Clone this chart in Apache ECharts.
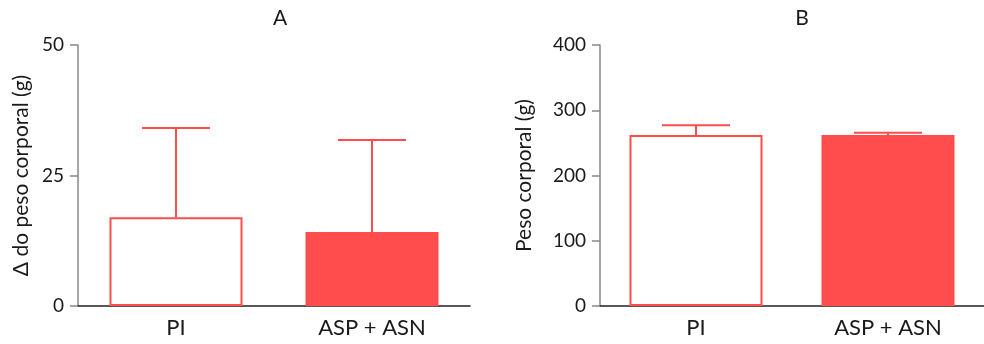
<!DOCTYPE html>
<html>
<head>
<meta charset="utf-8">
<script src="https://cdn.jsdelivr.net/npm/echarts@6/dist/echarts.min.js"></script>
<style>
  html, body { margin: 0; padding: 0; background: #fff; }
  #chart { width: 984px; height: 344px; }
</style>
</head>
<body>
<div id="chart"></div>
<script>
// dados
const categorias = ['PI', 'ASP + ASN']
const deltaMedia = [17, 14.2]
const deltaErroTopo = [34.1, 31.8]
const pesoMedia = [262, 262]
const pesoErroTopo = [277, 265.5]
const ticksA = [0, 25, 50]
const ticksB = [0, 100, 200, 300, 400]

const vermelho = '#ff4d4d'
const fonte = 'Lato, "Open Sans", sans-serif'
const texto = '#1a1a1a'

const chart = echarts.init(document.getElementById('chart'))

function barras(medias) {
  // primeiro grupo vazado, segundo preenchido
  return medias.map((v, i) => ({
    value: v,
    itemStyle: i === 0
      ? { color: '#fff', borderColor: vermelho, borderWidth: 2 }
      : { color: vermelho, borderWidth: 0 }
  }))
}

function erros(medias, topos) {
  return medias.map((v, i) => [i, v, topos[i]])
}

function desenhaErro(params, api) {
  const base = api.coord([api.value(0), api.value(1)])
  const topo = api.coord([api.value(0), api.value(2)])
  const meia = 34
  const estilo = { stroke: vermelho, lineWidth: 2 }
  return {
    type: 'group',
    children: [
      { type: 'line', shape: { x1: base[0], y1: base[1], x2: topo[0], y2: topo[1] }, style: estilo },
      { type: 'line', shape: { x1: topo[0] - meia, y1: topo[1], x2: topo[0] + meia, y2: topo[1] }, style: estilo }
    ]
  }
}

function eixoY(nome, ticks, grid, gap) {
  return {
    type: 'value',
    gridIndex: grid,
    min: ticks[0],
    max: ticks[ticks.length - 1],
    interval: ticks[1] - ticks[0],
    name: nome,
    nameLocation: 'middle',
    nameGap: gap,
    nameRotate: 90,
    nameTextStyle: { fontFamily: fonte, fontSize: 21, color: texto },
    axisLine: { show: true, lineStyle: { color: '#888', width: 1.5 } },
    axisTick: { show: true, length: 8, lineStyle: { color: '#888', width: 1.5 } },
    axisLabel: { fontFamily: fonte, fontSize: 19, color: texto, margin: 14 },
    splitLine: { show: false }
  }
}

function eixoX(grid) {
  return {
    type: 'category',
    gridIndex: grid,
    data: categorias,
    axisLine: { show: true, lineStyle: { color: '#222', width: 1.5 } },
    axisTick: { show: false },
    axisLabel: { fontFamily: fonte, fontSize: 22, color: texto, margin: 11 }
  }
}

const option = {
  animation: false,
  title: [
    { text: 'A', left: 275, top: 3, textAlign: 'center',
      textStyle: { fontFamily: fonte, fontSize: 21, fontWeight: 'normal', color: texto } },
    { text: 'B', left: 797, top: 3, textAlign: 'center',
      textStyle: { fontFamily: fonte, fontSize: 21, fontWeight: 'normal', color: texto } }
  ],
  grid: [
    { left: 78, top: 45, width: 392, height: 261 },
    { left: 600, top: 45, width: 392, height: 261 }
  ],
  xAxis: [eixoX(0), eixoX(1)],
  yAxis: [
    eixoY('Δ do peso corporal (g)', ticksA, 0, 46),
    eixoY('Peso corporal (g)', ticksB, 1, 65)
  ],
  series: [
    {
      type: 'custom', xAxisIndex: 0, yAxisIndex: 0, z: 1,
      renderItem: desenhaErro, data: erros(deltaMedia, deltaErroTopo)
    },
    {
      type: 'bar', xAxisIndex: 0, yAxisIndex: 0, z: 2,
      barWidth: 133, data: barras(deltaMedia)
    },
    {
      type: 'custom', xAxisIndex: 1, yAxisIndex: 1, z: 1,
      renderItem: desenhaErro, data: erros(pesoMedia, pesoErroTopo)
    },
    {
      type: 'bar', xAxisIndex: 1, yAxisIndex: 1, z: 2,
      barWidth: 133, data: barras(pesoMedia)
    }
  ]
}

chart.setOption(option)
</script>
</body>
</html>
